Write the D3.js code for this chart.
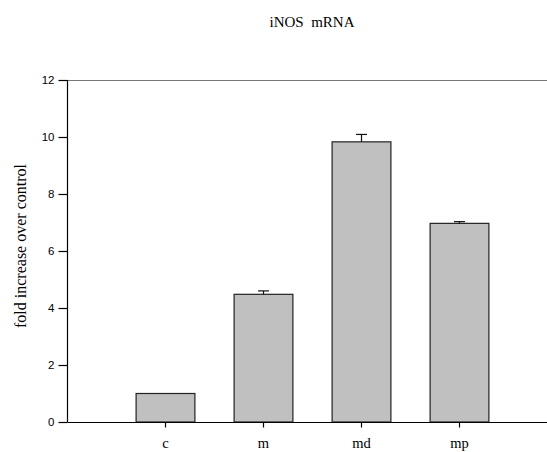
<!DOCTYPE html>
<html>
<head>
<meta charset="utf-8">
<script src="https://cdn.jsdelivr.net/npm/d3@7"></script>
<style>
  html, body { margin: 0; padding: 0; background: #fff; }
  svg { display: block; }
</style>
</head>
<body>
<svg id="chart" width="547" height="452"></svg>
<script>
const categories = ["c", "m", "md", "mp"];
const values = [1.0, 4.48, 9.83, 6.97];
const errors = [0, 0.12, 0.26, 0.06];
const yTicks = [0, 2, 4, 6, 8, 10, 12];
const titleText = "iNOS  mRNA";
const yTitle = "fold increase over control";

(function () {
const svg = d3.select("#chart");
const pLeft = 67, pRight = 547, pTop = 80, pBottom = 422;

const y = d3.scaleLinear().domain([0, 12]).range([pBottom, pTop]);
const x = d3.scaleBand().domain(categories).range([116, 508])
  .paddingInner(0.4).paddingOuter(0.2);

// top frame line
svg.append("line").attr("x1", pLeft).attr("x2", pRight)
  .attr("y1", pTop + 0.5).attr("y2", pTop + 0.5)
  .attr("stroke", "#777").attr("stroke-width", 1.2);

// bars
svg.append("g").selectAll("rect").data(categories).join("rect")
  .attr("x", d => x(d) + 0.5)
  .attr("y", (d, i) => y(values[i]))
  .attr("width", x.bandwidth())
  .attr("height", (d, i) => pBottom - y(values[i]))
  .attr("fill", "#c0c0c0")
  .attr("stroke", "#222")
  .attr("stroke-width", 1.2);

// error bars
const eg = svg.append("g").attr("stroke", "#111").attr("stroke-width", 1.2);
categories.forEach((c, i) => {
  if (!errors[i]) return;
  const cx = x(c) + x.bandwidth() / 2 + 0.5;
  eg.append("line").attr("x1", cx).attr("x2", cx)
    .attr("y1", y(values[i])).attr("y2", y(values[i] + errors[i]));
  eg.append("line").attr("x1", cx - 5.5).attr("x2", cx + 5.5)
    .attr("y1", y(values[i] + errors[i])).attr("y2", y(values[i] + errors[i]));
});

// y axis
const yAxis = d3.axisLeft(y).tickValues(yTicks).tickSize(9).tickPadding(4)
  .tickFormat(d3.format("d"));
const yg = svg.append("g").attr("transform", `translate(${pLeft + 0.5},0)`).call(yAxis);
yg.select(".domain").attr("d", `M0,${pTop}V${pBottom}`).attr("stroke", "#000").attr("stroke-width", 1.2);
yg.selectAll(".tick line").attr("stroke", "#000").attr("stroke-width", 1.2);
yg.selectAll(".tick text").attr("font-family", "Arial, 'Liberation Sans', sans-serif")
  .attr("font-size", 11.5).attr("fill", "#000");

// x axis
const xAxis = d3.axisBottom(x).tickSize(5).tickPadding(16);
const xg = svg.append("g").attr("transform", `translate(0.5,${pBottom + 0.5})`).call(xAxis);
xg.select(".domain").attr("d", `M${pLeft},0H${pRight}`).attr("stroke", "#000").attr("stroke-width", 1.2);
xg.selectAll(".tick line").attr("stroke", "#000").attr("stroke-width", 1.2);
xg.selectAll(".tick text").attr("font-family", "'Liberation Serif', 'Times New Roman', serif")
  .attr("font-size", 14.5).attr("fill", "#000").attr("dy", null).attr("y", 25.5);

// title
svg.append("text").attr("x", 312).attr("y", 27).attr("text-anchor", "middle")
  .attr("font-family", "'Liberation Serif', 'Times New Roman', serif")
  .attr("font-size", 15).style("white-space", "pre").text(titleText);

// y title
svg.append("text").attr("transform", "translate(26,246) rotate(-90)")
  .attr("text-anchor", "middle")
  .attr("font-family", "'Liberation Serif', 'Times New Roman', serif")
  .attr("font-size", 16).text(yTitle);
})();
</script>
</body>
</html>
